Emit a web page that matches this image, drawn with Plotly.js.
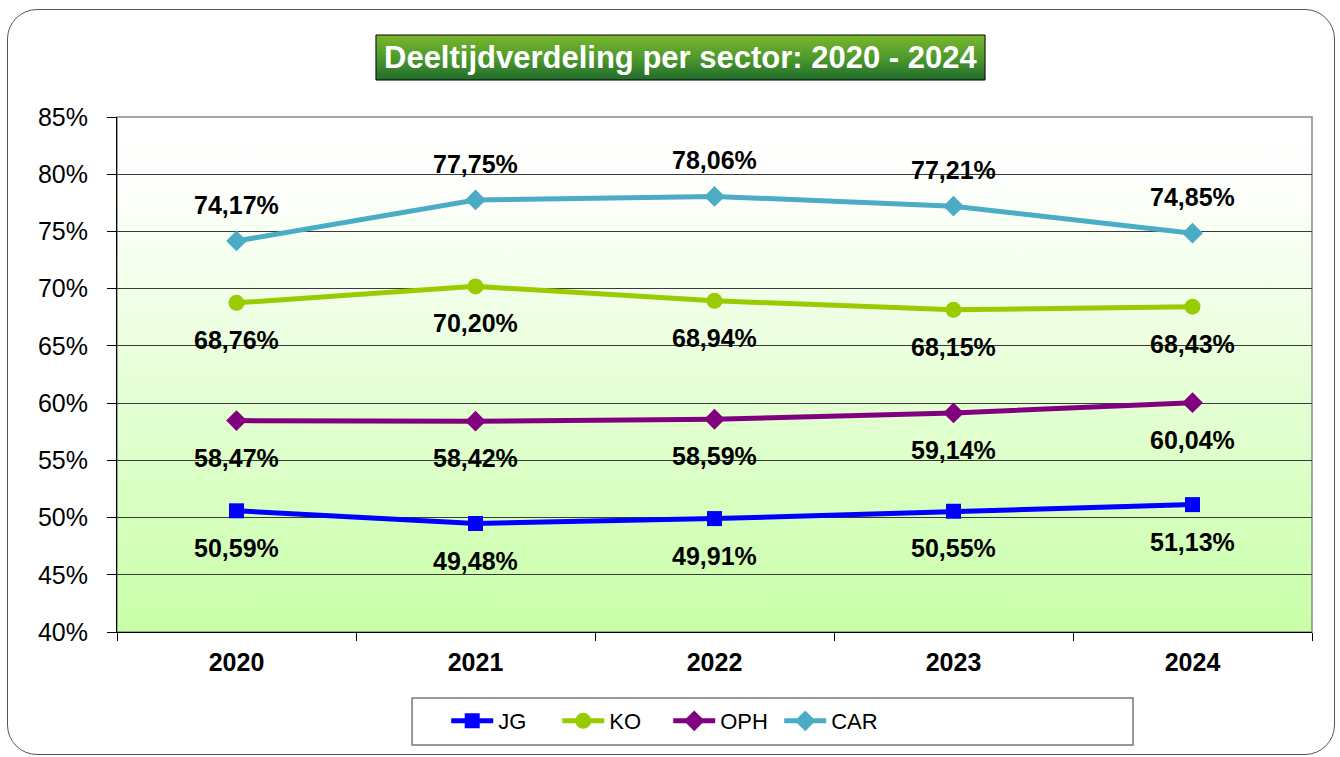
<!DOCTYPE html>
<html><head><meta charset="utf-8">
<script src="https://cdn.plot.ly/plotly-3.0.1.min.js"></script>
<style>
html,body{margin:0;padding:0;background:#fff;}
#wrap{position:relative;width:1340px;height:757px;}
#chart{position:absolute;left:0;top:0;width:1340px;height:757px;}
#frame{position:absolute;left:7px;top:9px;width:1326px;height:744px;border:1px solid #555;border-radius:30px;pointer-events:none;}
</style></head>
<body><div id="wrap"><div id="chart"></div><div id="frame"></div></div>
<script>
const years = ['2020','2021','2022','2023','2024'];
const JG  = [50.59, 49.48, 49.91, 50.55, 51.13];
const KO  = [68.76, 70.20, 68.94, 68.15, 68.43];
const OPH = [58.47, 58.42, 58.59, 59.14, 60.04];
const CAR = [74.17, 77.75, 78.06, 77.21, 74.85];
const yTicks = [40,45,50,55,60,65,70,75,80,85];
const titleText = 'Deeltijdverdeling per sector: 2020 - 2024';

const series = [
  {name:'JG', y:JG, color:'#0000ff', symbol:'square', size:15, above:false},
  {name:'KO', y:KO, color:'#99cc00', symbol:'circle', size:16, above:false},
  {name:'OPH', y:OPH, color:'#800080', symbol:'diamond', size:16, above:false},
  {name:'CAR', y:CAR, color:'#4bacc6', symbol:'diamond', size:16, above:true}
];

const font = 'Liberation Sans, Arial, sans-serif';
const traces = series.map(s => ({
  type:'scatter', mode:'lines+markers', name:s.name, x:years, y:s.y,
  line:{color:s.color, width:5},
  marker:{color:s.color, symbol:s.symbol, size:s.size},
  cliponaxis:false
}));

const annotations = [];
series.forEach(s => {
  s.y.forEach((v,i) => {
    annotations.push({x:i, y:v, xref:'x', yref:'y', showarrow:false,
      text: '<b>' + v.toFixed(2).replace('.',',') + '%</b>',
      yshift: s.above ? 36 : -37,
      font:{family:font, size:25, color:'#000'}});
  });
});
annotations.push({xref:'paper', yref:'paper', x:0.4715, y:1.1155, showarrow:false,
  xanchor:'center', yanchor:'middle',
  text:'<b>'+titleText+'</b>', font:{family:font, size:31, color:'#fff'}});

const bgSvg = 'data:image/svg+xml;utf8,' + encodeURIComponent(
 '<svg xmlns="http://www.w3.org/2000/svg" width="100" height="100" preserveAspectRatio="none"><defs><linearGradient id="g" x1="0" y1="0" x2="0" y2="1"><stop offset="0" stop-color="#ffffff"/><stop offset="0.15" stop-color="#fdfffb"/><stop offset="1" stop-color="#c8ffa8"/></linearGradient></defs><rect width="100" height="100" fill="url(#g)"/></svg>');
const titleSvg = 'data:image/svg+xml;utf8,' + encodeURIComponent(
 '<svg xmlns="http://www.w3.org/2000/svg" width="100" height="100" preserveAspectRatio="none"><defs><linearGradient id="t" x1="0" y1="0" x2="0" y2="1"><stop offset="0" stop-color="#7ab62c"/><stop offset="0.5" stop-color="#4f9a2c"/><stop offset="1" stop-color="#1f6b2c"/></linearGradient></defs><rect width="100" height="100" fill="url(#t)"/></svg>');

const layout = {
  width:1340, height:757,
  margin:{l:117, r:28, t:117, b:125},
  paper_bgcolor:'rgba(0,0,0,0)', plot_bgcolor:'rgba(0,0,0,0)',
  showlegend:true,
  font:{family:font, color:'#000'},
  xaxis:{type:'category', range:[-0.5,4.5], tickson:'boundaries', ticks:'outside', ticklen:8,
    tickcolor:'#000', showgrid:false, showline:true, linecolor:'#000', linewidth:1,
    tickfont:{family:font, size:25, color:'#000', weight:'bold'}, ticklabelstandoff:8, zeroline:false},
  yaxis:{range:[40,85], tickvals:yTicks, ticktext:yTicks.map(v=>v+'%'), ticks:'outside', ticklen:9,
    tickcolor:'#000', showgrid:true, gridcolor:'#3a3a3a', gridwidth:1, showline:true, linecolor:'#000',
    linewidth:1, zeroline:false, tickfont:{family:font, size:25, color:'#000'}, ticklabelstandoff:14},
  legend:{orientation:'h', xref:'container', yref:'container', x:0.333, y:1-721/757,
    xanchor:'left', yanchor:'middle', bgcolor:'rgba(0,0,0,0)', borderwidth:0,
    font:{family:font, size:22, color:'#000'}, itemwidth:42, entrywidth:54, entrywidthmode:'pixels'},
  images:[
    {source:bgSvg, xref:'paper', yref:'paper', x:0, y:1, sizex:1, sizey:1, sizing:'stretch', layer:'below', xanchor:'left', yanchor:'top'},
    {source:titleSvg, xref:'paper', yref:'paper', x:0.2167, y:1.1592, sizex:0.5097, sizey:0.0874, sizing:'stretch', layer:'below', xanchor:'left', yanchor:'top'}
  ],
  shapes:[
    {type:'rect', xref:'paper', yref:'paper', x0:0, x1:1, y0:0, y1:1, line:{color:'#888', width:1.5}, layer:'below'},
    {type:'rect', xref:'paper', yref:'paper', x0:0.2167, x1:0.7264, y0:1.0718, y1:1.1592, line:{color:'#000', width:1}},
    {type:'rect', xref:'paper', yref:'paper', x0:0.2469, x1:0.8502, y0:-0.2194, y1:-0.1282, line:{color:'#777', width:1.5}}
  ],
  annotations:annotations
};
Plotly.newPlot('chart', traces, layout, {displayModeBar:false, staticPlot:true});
</script></body></html>
